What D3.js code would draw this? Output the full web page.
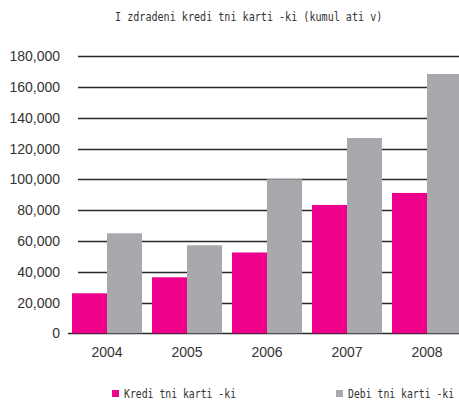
<!DOCTYPE html>
<html>
<head>
<meta charset="utf-8">
<script src="https://cdn.jsdelivr.net/npm/d3@7"></script>
<style>
  body { margin: 0; background: #fff; }
  svg { display: block; }
</style>
</head>
<body>
<div id="chart"></div>
<script>
(function() {

var years = ["2004", "2005", "2006", "2007", "2008"];
var seriesNames = ["Kredi tni karti -ki", "Debi tni karti -ki"];
var kreditni = [26000, 36400, 52500, 83400, 91200];
var debitni = [65000, 57200, 100100, 126900, 168500];
var yTicks = [0, 20000, 40000, 60000, 80000, 100000, 120000, 140000, 160000, 180000];
var title = "I zdradeni kredi tni karti -ki (kumul ati v)";

var colors = ["#ec008c", "#a7a9ac"];
var width = 459, height = 401;

var svg = d3.select("#chart").append("svg")
    .attr("width", width)
    .attr("height", height);

var x = d3.scaleBand()
    .domain(years)
    .range([67, 467])
    .paddingInner(0.125)
    .paddingOuter(0.0625);

var x1 = d3.scaleBand()
    .domain([0, 1])
    .range([0, x.bandwidth()]);

var y = d3.scaleLinear()
    .domain([0, 180000])
    .range([333.3, 56.3]);

var data = years.map(function(yr, i) {
  return {year: yr, values: [kreditni[i], debitni[i]]};
});

// gridlines
svg.append("g")
  .selectAll("line")
  .data(yTicks)
  .enter().append("line")
    .attr("x1", function(d) { return d === 0 ? 68 : 78; })
    .attr("x2", width)
    .attr("y1", function(d) { return Math.round(y(d)) + 0.5; })
    .attr("y2", function(d) { return Math.round(y(d)) + 0.5; })
    .attr("stroke", "#2a2a2a")
    .attr("stroke-width", 1.4);

// y labels
svg.append("g")
  .selectAll("text")
  .data(yTicks)
  .enter().append("text")
    .attr("x", 60)
    .attr("y", function(d) { return y(d) + 5; })
    .attr("text-anchor", "end")
    .attr("font-family", "Liberation Sans, Arial, sans-serif")
    .attr("font-size", 14)
    .attr("fill", "#333")
    .text(d3.format(","));

// bars
var groups = svg.append("g")
  .selectAll("g")
  .data(data)
  .enter().append("g")
    .attr("transform", function(d) { return "translate(" + x(d.year) + ",0)"; });

groups.selectAll("rect")
  .data(function(d) { return d.values; })
  .enter().append("rect")
    .attr("x", function(d, i) { return x1(i); })
    .attr("width", x1.bandwidth())
    .attr("y", function(d) { return y(d); })
    .attr("height", function(d) { return y(0) - y(d); })
    .attr("fill", function(d, i) { return colors[i]; });

// x labels
svg.append("g")
  .selectAll("text")
  .data(years)
  .enter().append("text")
    .attr("x", function(d) { return x(d) + x.bandwidth() / 2; })
    .attr("y", 357)
    .attr("text-anchor", "middle")
    .attr("font-family", "Liberation Sans, Arial, sans-serif")
    .attr("font-size", 14)
    .attr("fill", "#333")
    .text(function(d) { return d; });

// title (mono font stretched vertically to look condensed)
svg.append("text")
    .attr("transform", "translate(115,21) scale(1,1.3)")
    .attr("font-family", "DejaVu Sans Mono, monospace")
    .attr("font-size", 10.1)
    .attr("fill", "#333")
    .text(title);

// legend
var legendX = [112, 336];
var legend = svg.append("g")
  .selectAll("g")
  .data(seriesNames)
  .enter().append("g")
    .attr("transform", function(d, i) { return "translate(" + legendX[i] + ",0)"; });

legend.append("rect")
    .attr("x", 0)
    .attr("y", 390)
    .attr("width", 7)
    .attr("height", 7)
    .attr("fill", function(d, i) { return colors[i]; });

legend.append("text")
    .attr("transform", "translate(12,397.5) scale(1,1.3)")
    .attr("font-family", "DejaVu Sans Mono, monospace")
    .attr("font-size", 9.8)
    .attr("fill", "#333")
    .text(function(d) { return d; });

}());
</script>
</body>
</html>
